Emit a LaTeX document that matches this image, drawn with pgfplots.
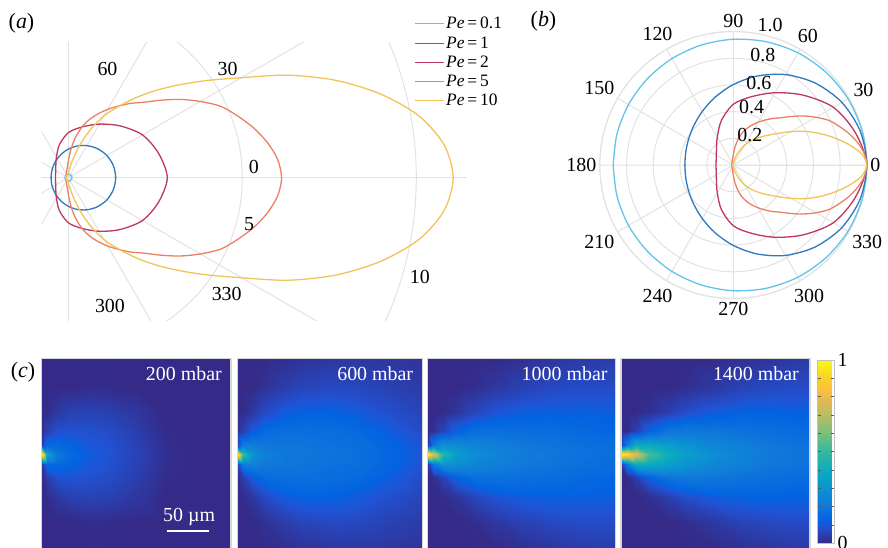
\documentclass[border=0pt]{standalone}
\usepackage{pgfplots}
\pgfplotsset{compat=1.18}
\usepackage{pgfplotstable}
\usepgfplotslibrary{polar}
\usepackage{fontspec}
\setmainfont{Liberation Serif}
\newcommand\lf{\fontsize{20}{24}\selectfont}
\definecolor{cA}{RGB}{100,195,235}
\definecolor{cB}{RGB}{45,120,190}
\definecolor{cC}{RGB}{190,55,95}
\definecolor{cD}{RGB}{236,128,98}
\definecolor{cE}{RGB}{240,196,88}
\definecolor{gridc}{RGB}{226,226,226}
\pgfplotsset{colormap={parula}{rgb255(0pt)=(53,42,135) rgb255(6pt)=(32,83,212) rgb255(8pt)=(3,99,225) rgb255(13pt)=(16,121,218) rgb255(19pt)=(12,147,210) rgb255(25pt)=(10,172,190) rgb255(32pt)=(56,185,158) rgb255(38pt)=(124,191,123) rgb255(44pt)=(183,189,100) rgb255(50pt)=(233,185,78) rgb255(54pt)=(255,195,55) rgb255(58pt)=(247,216,38) rgb255(63pt)=(249,251,14)}}

% theta (deg), normalised radius rn (panel b), absolute radius ra (panel a)
\pgfplotstableread{
t rn ra
-180 0.900 0.0945
-165 0.902 0.0947
-150 0.906 0.0951
-135 0.912 0.0958
-120 0.920 0.0966
-105 0.930 0.0977
-90 0.942 0.0989
-75 0.956 0.1004
-60 0.970 0.1019
-45 0.982 0.1031
-30 0.992 0.1042
-15 0.998 0.1048
0 1.000 0.1050
15 0.998 0.1048
30 0.992 0.1042
45 0.982 0.1031
60 0.970 0.1019
75 0.956 0.1004
90 0.942 0.0989
105 0.930 0.0977
120 0.920 0.0966
135 0.912 0.0958
150 0.906 0.0951
165 0.902 0.0947
180 0.900 0.0945
}\peA
\pgfplotstableread{
t rn ra
-180 0.363 0.494
-165 0.369 0.503
-150 0.387 0.527
-135 0.418 0.569
-120 0.464 0.632
-105 0.526 0.716
-90 0.6025 0.821
-75 0.690 0.940
-60 0.782 1.065
-45 0.868 1.182
-30 0.9385 1.278
-15 0.984 1.340
0 1.000 1.362
15 0.984 1.340
30 0.9385 1.278
45 0.868 1.182
60 0.782 1.065
75 0.690 0.940
90 0.6025 0.821
105 0.526 0.716
120 0.464 0.632
135 0.418 0.569
150 0.387 0.527
165 0.369 0.503
180 0.363 0.494
}\peB
\pgfplotstableread{
t rn ra
-180 0.130 0.370
-165 0.133 0.378
-150 0.147 0.418
-135 0.178 0.506
-120 0.240 0.683
-105 0.345 0.982
-90 0.455 1.294
-75 0.530 1.508
-60 0.625 1.778
-45 0.740 2.105
-30 0.865 2.461
-15 0.945 2.689
0 1.000 2.845
15 0.945 2.689
30 0.865 2.461
45 0.740 2.105
60 0.625 1.778
75 0.530 1.508
90 0.455 1.294
105 0.345 0.982
120 0.240 0.683
135 0.178 0.506
150 0.147 0.418
165 0.133 0.378
180 0.130 0.370
}\peC
\pgfplotstableread{
t rn ra
-180 0.012 0.074
-140 0.014 0.086
-120 0.019 0.116
-110 0.025 0.153
-100 0.038 0.233
-95 0.050 0.307
-90 0.075 0.460
-85 0.130 0.797
-80 0.190 1.165
-75 0.245 1.502
-70 0.290 1.778
-65 0.330 2.023
-60 0.370 2.268
-55 0.410 2.513
-50 0.455 2.789
-45 0.500 3.065
-40 0.565 3.463
-35 0.640 3.923
-30 0.715 4.383
-25 0.790 4.843
-20 0.845 5.180
-15 0.900 5.517
-10 0.948 5.811
-5 0.985 6.038
0 1.000 6.130
5 0.985 6.038
10 0.948 5.811
15 0.900 5.517
20 0.845 5.180
25 0.790 4.843
30 0.715 4.383
35 0.640 3.923
40 0.565 3.463
45 0.500 3.065
50 0.455 2.789
55 0.410 2.513
60 0.370 2.268
65 0.330 2.023
70 0.290 1.778
75 0.245 1.502
80 0.190 1.165
85 0.130 0.797
90 0.075 0.460
95 0.050 0.307
100 0.038 0.233
110 0.025 0.153
120 0.019 0.116
140 0.014 0.086
180 0.012 0.074
}\peD
\pgfplotstableread{
t rn ra
-180 0.008 0.09
-110 0.008 0.09
-90 0.012 0.13
-80 0.030 0.33
-75 0.055 0.61
-70 0.090 1.05
-65 0.130 1.55
-60 0.175 2.05
-55 0.215 2.49
-50 0.255 2.99
-45 0.300 3.54
-40 0.350 4.15
-35 0.415 4.87
-30 0.500 5.75
-25 0.595 6.97
-20 0.690 8.18
-15 0.785 9.29
-10 0.880 10.23
-5 0.965 10.84
0 1.000 11.06
5 0.965 10.84
10 0.880 10.23
15 0.785 9.29
20 0.690 8.18
25 0.595 6.97
30 0.500 5.75
35 0.415 4.87
40 0.350 4.15
45 0.300 3.54
50 0.255 2.99
55 0.215 2.49
60 0.175 2.05
65 0.130 1.55
70 0.090 1.05
75 0.055 0.61
80 0.030 0.33
90 0.012 0.13
110 0.008 0.09
180 0.008 0.09
}\peE

% concentration fields: x, y (panel units), a=200, b=600, c=1000, d=1400 mbar
\pgfplotstableread{
x y a b c d
0 -0.5 0 0 0 0
0.03 -0.5 0 0 0 0
0.08 -0.5 0 0 0 0
0.15 -0.5 0 0 0 0
0.25 -0.5 0 0.01 0 0
0.35 -0.5 0 0.019 0 0
0.5 -0.5 0 0.027 0.012 0.004
0.65 -0.5 0 0.03 0.024 0.014
0.8 -0.5 0 0.028 0.036 0.026
1 -0.5 0 0.023 0.042 0.036
0 -0.35 0 0 0 0
0.03 -0.35 0 0 0 0
0.08 -0.35 0 0.002 0 0
0.15 -0.35 0 0.018 0 0
0.25 -0.35 0.006 0.044 0.01 0
0.35 -0.35 0.005 0.062 0.03 0.012
0.5 -0.35 0 0.072 0.054 0.036
0.65 -0.35 0 0.069 0.07 0.06
0.8 -0.35 0 0.056 0.078 0.072
1 -0.35 0 0.04 0.078 0.078
0 -0.22 0 0 0 0
0.03 -0.22 0.006 0.006 0 0
0.08 -0.22 0.032 0.03 0.006 0
0.15 -0.22 0.052 0.075 0.024 0.012
0.25 -0.22 0.058 0.11 0.066 0.048
0.35 -0.22 0.052 0.125 0.096 0.084
0.5 -0.22 0.03 0.125 0.114 0.114
0.65 -0.22 0 0.11 0.12 0.126
0.8 -0.22 0 0.088 0.12 0.126
1 -0.22 0 0.062 0.115 0.12
0 -0.12 0.01 0.01 0 0
0.03 -0.12 0.05 0.05 0.012 0.006
0.08 -0.12 0.09 0.11 0.06 0.05
0.15 -0.12 0.095 0.155 0.13 0.13
0.25 -0.12 0.09 0.17 0.17 0.19
0.35 -0.12 0.078 0.17 0.175 0.205
0.5 -0.12 0.048 0.165 0.17 0.195
0.65 -0.12 0.006 0.15 0.165 0.18
0.8 -0.12 0 0.12 0.15 0.17
1 -0.12 0 0.08 0.14 0.155
0 -0.05 0.04 0.05 0.03 0.03
0.03 -0.05 0.15 0.22 0.2 0.22
0.08 -0.05 0.15 0.23 0.3 0.4
0.15 -0.05 0.13 0.205 0.28 0.39
0.25 -0.05 0.105 0.195 0.25 0.35
0.35 -0.05 0.09 0.19 0.23 0.3
0.5 -0.05 0.055 0.18 0.205 0.255
0.65 -0.05 0.012 0.17 0.19 0.225
0.8 -0.05 0 0.14 0.175 0.2
1 -0.05 0 0.095 0.16 0.18
0 0 1 1 1 1
0.03 0 0.35 0.5 0.78 0.94
0.08 0 0.2 0.3 0.46 0.76
0.15 0 0.15 0.23 0.34 0.53
0.25 0 0.115 0.2 0.28 0.41
0.35 0 0.095 0.195 0.25 0.34
0.5 0 0.06 0.19 0.22 0.28
0.65 0 0.015 0.175 0.2 0.24
0.8 0 0 0.145 0.185 0.21
1 0 0 0.1 0.165 0.185
0 0.05 0.04 0.05 0.03 0.03
0.03 0.05 0.15 0.22 0.2 0.22
0.08 0.05 0.15 0.23 0.3 0.4
0.15 0.05 0.13 0.205 0.28 0.39
0.25 0.05 0.105 0.195 0.25 0.35
0.35 0.05 0.09 0.19 0.23 0.3
0.5 0.05 0.055 0.18 0.205 0.255
0.65 0.05 0.012 0.17 0.19 0.225
0.8 0.05 0 0.14 0.175 0.2
1 0.05 0 0.095 0.16 0.18
0 0.12 0.01 0.01 0 0
0.03 0.12 0.05 0.05 0.012 0.006
0.08 0.12 0.09 0.11 0.06 0.05
0.15 0.12 0.095 0.155 0.13 0.13
0.25 0.12 0.09 0.17 0.17 0.19
0.35 0.12 0.078 0.17 0.175 0.205
0.5 0.12 0.048 0.165 0.17 0.195
0.65 0.12 0.006 0.15 0.165 0.18
0.8 0.12 0 0.12 0.15 0.17
1 0.12 0 0.08 0.14 0.155
0 0.22 0 0 0 0
0.03 0.22 0.006 0.006 0 0
0.08 0.22 0.032 0.03 0.006 0
0.15 0.22 0.052 0.075 0.024 0.012
0.25 0.22 0.058 0.11 0.066 0.048
0.35 0.22 0.052 0.125 0.096 0.084
0.5 0.22 0.03 0.125 0.114 0.114
0.65 0.22 0 0.11 0.12 0.126
0.8 0.22 0 0.088 0.12 0.126
1 0.22 0 0.062 0.115 0.12
0 0.35 0 0 0 0
0.03 0.35 0 0 0 0
0.08 0.35 0 0.002 0 0
0.15 0.35 0 0.018 0 0
0.25 0.35 0.006 0.044 0.01 0
0.35 0.35 0.005 0.062 0.03 0.012
0.5 0.35 0 0.072 0.054 0.036
0.65 0.35 0 0.069 0.07 0.06
0.8 0.35 0 0.056 0.078 0.072
1 0.35 0 0.04 0.078 0.078
0 0.5 0 0 0 0
0.03 0.5 0 0 0 0
0.08 0.5 0 0 0 0
0.15 0.5 0 0 0 0
0.25 0.5 0 0.01 0 0
0.35 0.5 0 0.019 0 0
0.5 0.5 0 0.027 0.012 0.004
0.65 0.5 0 0.03 0.024 0.014
0.8 0.5 0 0.028 0.036 0.026
1 0.5 0 0.023 0.042 0.036
}\heat

\pgfplotsset{
  curve/.style={line width=1.3bp, smooth},
  heat/.style={anchor=south west, scale only axis, height=192bp,
    xmin=0, xmax=1, ymin=-0.5, ymax=0.5, xtick=\empty, ytick=\empty,
    axis line style={draw=black!16, line width=1.2bp}, axis on top,
    colormap name=parula, point meta min=0, point meta max=1},
  hmap/.style={surf, shader=interp, mesh/cols=10, point meta=explicit},
}

\begin{document}
\begin{tikzpicture}
\useasboundingbox (0,0) rectangle (888bp,-548bp);

% ---------------- (a)
\node[font=\fontsize{22}{26}\selectfont] at (21.5bp,-23bp) {(\textit{a})};
\begin{axis}[at={(41.7bp,-320bp)}, anchor=south west, x=34.8bp, y=34.8bp,
  xmin=-0.764, xmax=11.457, ymin=-4.089, ymax=3.871, hide axis, clip=true,
  legend style={at={(0.8754,1.1011)}, anchor=north west, draw=none, fill=none,
    inner sep=0pt, font=\fontsize{17.5}{19}\selectfont, row sep=2.3bp},
  legend cell align=left,
  legend image code/.code={\draw[#1, line width=1bp] (0bp,0bp) -- (29bp,0bp);}]
\foreach \p/\q in {20/0, 17.32/10, 10/17.32, 0/20, -10/17.32, -17.32/10, -20/0, -17.32/-10, -10/-17.32, 0/-20, 10/-17.32, 17.32/-10}{
  \edef\tmp{\noexpand\draw[gridc, line width=1bp] (axis cs:0,0) -- (axis cs:\p,\q);}\tmp
}
\draw[gridc, line width=1bp] (axis cs:0,0) circle[radius=5];
\draw[gridc, line width=1bp] (axis cs:0,0) circle[radius=10];
\addplot[cA, curve, data cs=polar] table[x=t, y=ra] {\peA};
\addlegendentry{\textit{Pe}\,=\,0.1}
\addplot[cB, curve, data cs=polar] table[x=t, y=ra] {\peB};
\addlegendentry{\textit{Pe}\,=\,1}
\addplot[cC, curve, data cs=polar] table[x=t, y=ra] {\peC};
\addlegendentry{\textit{Pe}\,=\,2}
\addplot[cD, curve, data cs=polar] table[x=t, y=ra] {\peD};
\addlegendentry{\textit{Pe}\,=\,5}
\addplot[cE, curve, data cs=polar] table[x=t, y=ra] {\peE};
\addlegendentry{\textit{Pe}\,=\,10}
\node[font=\lf] at (axis cs:1.126,3.123) {60};
\node[font=\lf] at (axis cs:4.575,3.123) {30};
\node[font=\lf] at (axis cs:5.330,0.307) {0};
\node[font=\lf] at (axis cs:5.193,-1.330) {5};
\node[font=\lf] at (axis cs:10.10,-2.853) {10};
\node[font=\lf] at (axis cs:4.552,-3.342) {330};
\node[font=\lf] at (axis cs:1.198,-3.687) {300};
\end{axis}

% ---------------- (b)
\node[font=\fontsize{22}{26}\selectfont] at (543.5bp,-21bp) {(\textit{b})};
\begin{polaraxis}[at={(733.3bp,-165bp)}, anchor=center, scale only axis,
  width=267bp, height=267bp, ymin=0, ymax=1, clip=false,
  xtick={0,30,...,330},
  xticklabels={0,30,60,90,120,150,180,210,240,270,300,330},
  ytick={0.2,0.4,0.6,0.8,1.0}, yticklabels={},
  xmajorgrids, ymajorgrids,
  grid style={draw=gridc, line width=1bp},
  axis line style={draw=gridc, line width=1bp},
  tick style={draw=none},
  xticklabel style={font=\lf}]
\addplot[cA, curve] table[x=t, y=rn] {\peA};
\addplot[cB, curve] table[x=t, y=rn] {\peB};
\addplot[cC, curve] table[x=t, y=rn] {\peC};
\addplot[cD, curve] table[x=t, y=rn] {\peD};
\addplot[cE, curve] table[x=t, y=rn] {\peE};
\node[font=\lf] at (axis cs:75.3,1.084) {1.0};
\node[font=\lf] at (axis cs:75,0.853) {0.8};
\node[font=\lf] at (axis cs:72.7,0.646) {0.6};
\node[font=\lf] at (axis cs:72.5,0.458) {0.4};
\node[font=\lf] at (axis cs:61,0.256) {0.2};
\end{polaraxis}

% ---------------- (c)
\node[font=\fontsize{22}{26}\selectfont] at (23bp,-372bp) {(\textit{c})};
\begin{axis}[heat, at={(41.7bp,-550.3bp)}, width=189.3bp]
\addplot[hmap] table[x=x, y=y, meta=a] {\heat};
\node[anchor=north east, inner sep=0pt, text=white, font=\lf] at ([xshift=-9bp,yshift=-8.5bp]rel axis cs:1,1) {200 mbar};
\draw[white, line width=2bp] (axis cs:0.662,-0.3995) -- (axis cs:0.884,-0.3995);
\node[anchor=base, inner sep=0pt, text=white, font=\lf] at (axis cs:0.779,-0.351) {50 µm};
\end{axis}
\begin{axis}[heat, at={(237.3bp,-550.3bp)}, width=185bp]
\addplot[hmap] table[x=x, y=y, meta=b] {\heat};
\node[anchor=north east, inner sep=0pt, text=white, font=\lf] at ([xshift=-9bp,yshift=-8.5bp]rel axis cs:1,1) {600 mbar};
\end{axis}
\begin{axis}[heat, at={(427.7bp,-550.3bp)}, width=188bp]
\addplot[hmap] table[x=x, y=y, meta=c] {\heat};
\node[anchor=north east, inner sep=0pt, text=white, font=\lf] at ([xshift=-8bp,yshift=-8.5bp]rel axis cs:1,1) {1000 mbar};
\end{axis}
\begin{axis}[heat, at={(621bp,-550.3bp)}, width=189bp,
  colorbar, colorbar style={at={(parent axis.north east)}, anchor=north west,
    xshift=-0.8bp, yshift=-1.7bp, scale only axis, width=16.3bp, height=183.3bp,
    ytick={0,1}, yticklabels={0,1}, minor ytick={0.1,0.2,...,0.9},
    yticklabel style={font=\lf},
    tick align=inside, major tick length=3bp, minor tick length=3bp,
    tick style={draw=black!65, line width=0.5bp},
    axis line style={draw=black!25, line width=0.8bp}}]
\addplot[hmap] table[x=x, y=y, meta=d] {\heat};
\node[anchor=north east, inner sep=0pt, text=white, font=\lf] at ([xshift=-11bp,yshift=-8.5bp]rel axis cs:1,1) {1400 mbar};
\end{axis}
\end{tikzpicture}
\end{document}
